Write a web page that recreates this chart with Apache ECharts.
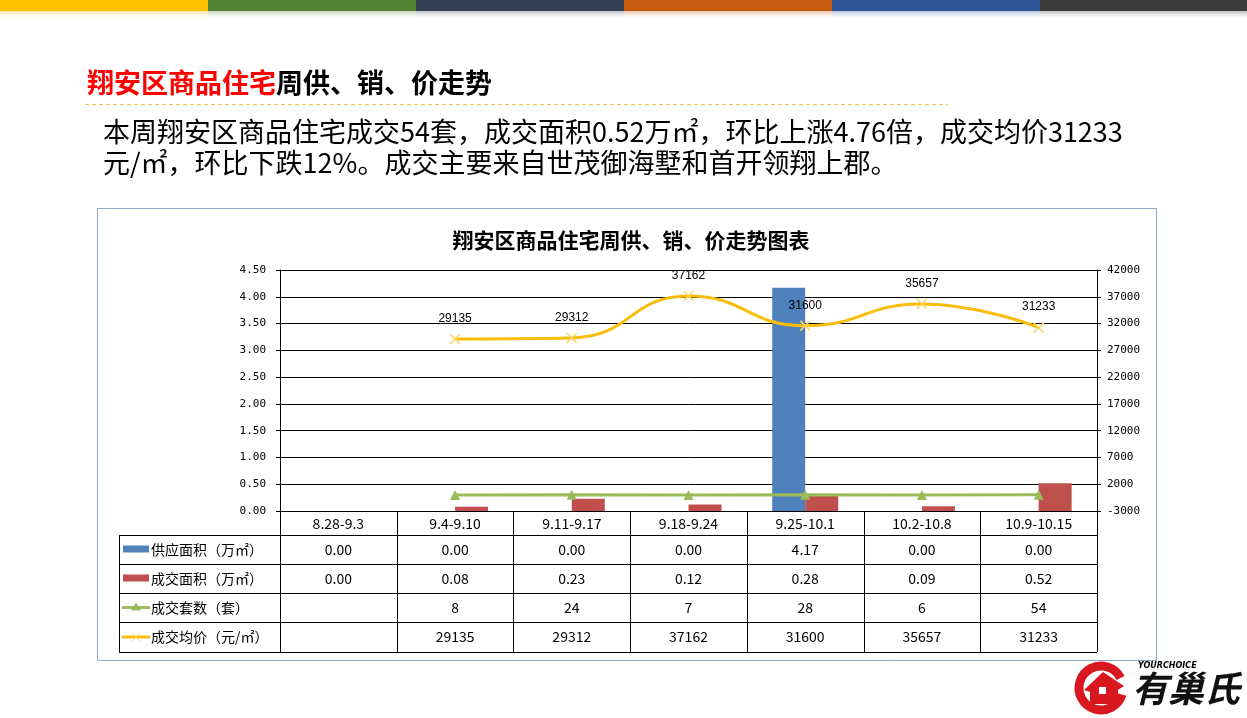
<!DOCTYPE html>
<html>
<head>
<meta charset="utf-8">
<script src="https://cdn.jsdelivr.net/npm/echarts@6/dist/echarts.min.js"></script>
<style>
  html, body { margin: 0; padding: 0; background: #fff; }
  #main { width: 1247px; height: 718px; }
</style>
</head>
<body>
<div id="main"></div>
<script>
// 数据
var categories = ['8.28-9.3', '9.4-9.10', '9.11-9.17', '9.18-9.24', '9.25-10.1', '10.2-10.8', '10.9-10.15'];
var supplyArea = [0, 0, 0, 0, 4.17, 0, 0];
var dealArea = [0, 0.08, 0.23, 0.12, 0.28, 0.09, 0.52];
var dealUnits = [null, 8, 24, 7, 28, 6, 54];
var avgPrice = [null, 29135, 29312, 37162, 31600, 35657, 31233];
var seriesNames = ['供应面积（万㎡）', '成交面积（万㎡）', '成交套数（套）', '成交均价（元/㎡）'];
var stripeColors = ['#FFC000', '#548235', '#333F50', '#C55A11', '#2F5597', '#3A3A3A'];

var colors = ['#4F81BD', '#C0504D', '#9BBB59', '#F9BD0A'];
var cjk = '"Noto Sans CJK SC", sans-serif';

// 布局
var gridL = 280, gridR = 1097, gridT = 270, gridB = 511;
var colW = (gridR - gridL) / categories.length;
var tableL = 119;
var rowY = [511, 535, 564, 593, 622, 652];

var xMark = 'path://M0,1L1,0L5,4L9,0L10,1L6,5L10,9L9,10L5,6L1,10L0,9L4,5Z';

var graphics = [];

// 顶部色条
stripeColors.forEach(function (c, i) {
    graphics.push({ type: 'rect', shape: { x: i * 208, y: 0, width: 208, height: 11 }, style: { fill: c } });
    graphics.push({
        type: 'rect', shape: { x: i * 208, y: 11, width: 208, height: 9 },
        style: {
            fill: new echarts.graphic.LinearGradient(0, 0, 0, 1, [
                { offset: 0, color: echarts.color.modifyAlpha(c, 0.35) },
                { offset: 1, color: 'rgba(255,255,255,0)' }
            ])
        }
    });
});

// 标题
graphics.push({
    type: 'text', left: 87, top: 69,
    style: {
        text: '{r|翔安区商品住宅}{b|周供、销、价走势}',
        rich: {
            r: { fill: '#FF0000', fontSize: 27, fontWeight: 'bold', fontFamily: cjk },
            b: { fill: '#000', fontSize: 27, fontWeight: 'bold', fontFamily: cjk }
        }
    }
});
graphics.push({
    type: 'line', shape: { x1: 85, y1: 104.5, x2: 948, y2: 104.5 },
    style: { stroke: '#F2C440', lineWidth: 1, lineDash: [4, 3] }
});
graphics.push({
    type: 'text', left: 103, top: 116,
    style: {
        text: '本周翔安区商品住宅成交54套，成交面积0.52万㎡，环比上涨4.76倍，成交均价31233\n元/㎡，环比下跌12%。成交主要来自世茂御海墅和首开领翔上郡。',
        fill: '#000', fontSize: 27, lineHeight: 31, fontFamily: cjk
    }
});

// 图表边框
graphics.push({
    type: 'rect', shape: { x: 97.5, y: 208.5, width: 1059, height: 452 },
    style: { fill: 'none', stroke: '#8FA9C9', lineWidth: 1 }
});

// 表格线
for (var r = 1; r < rowY.length; r++) {
    graphics.push({ type: 'line', shape: { x1: tableL, y1: rowY[r] + 0.5, x2: gridR, y2: rowY[r] + 0.5 }, style: { stroke: '#000', lineWidth: 1 } });
}
graphics.push({ type: 'line', shape: { x1: tableL + 0.5, y1: rowY[1], x2: tableL + 0.5, y2: rowY[5] }, style: { stroke: '#000', lineWidth: 1 } });
for (var k = 0; k <= categories.length; k++) {
    var xx = Math.round(gridL + k * colW) + 0.5;
    graphics.push({ type: 'line', shape: { x1: xx, y1: rowY[0], x2: xx, y2: rowY[5] }, style: { stroke: '#000', lineWidth: 1 } });
}

// 表格内容
var tableRows = [
    supplyArea.map(function (v) { return v.toFixed(2); }),
    dealArea.map(function (v) { return v.toFixed(2); }),
    dealUnits.map(function (v) { return v == null ? '' : String(v); }),
    avgPrice.map(function (v) { return v == null ? '' : String(v); })
];
tableRows.forEach(function (row, ri) {
    var cy = (rowY[ri + 1] + rowY[ri + 2]) / 2;
    // 图例
    if (ri < 2) {
        graphics.push({ type: 'rect', shape: { x: 123, y: cy - 4, width: 26, height: 7 }, style: { fill: colors[ri] } });
    } else {
        graphics.push({ type: 'line', shape: { x1: 122, y1: cy, x2: 150, y2: cy }, style: { stroke: colors[ri], lineWidth: 3 } });
        if (ri === 2) {
            graphics.push({ type: 'polygon', shape: { points: [[136, cy - 5], [131, cy + 3], [141, cy + 3]] }, style: { fill: colors[2] } });
        } else {
            graphics.push({ type: 'line', shape: { x1: 132, y1: cy - 4, x2: 140, y2: cy + 4 }, style: { stroke: '#FBD86A', lineWidth: 1 } });
            graphics.push({ type: 'line', shape: { x1: 140, y1: cy - 4, x2: 132, y2: cy + 4 }, style: { stroke: '#FBD86A', lineWidth: 1 } });
        }
    }
    graphics.push({
        type: 'text', x: 151, y: cy,
        style: { text: seriesNames[ri], fill: '#000', fontSize: 14, fontFamily: cjk, verticalAlign: 'middle' }
    });
    row.forEach(function (t, ci) {
        graphics.push({
            type: 'text', x: gridL + (ci + 0.5) * colW, y: cy,
            style: { text: t, fill: '#000', fontSize: 14, fontFamily: cjk, align: 'center', verticalAlign: 'middle' }
        });
    });
});

// logo
graphics.push({ type: 'arc', shape: { cx: 1101, cy: 688, r: 22, startAngle: 0.3, endAngle: Math.PI * 1.85 }, style: { stroke: '#D7191F', lineWidth: 9, fill: 'none' } });
graphics.push({ type: 'polygon', shape: { points: [[1084, 690], [1103, 672], [1124, 686], [1118, 690], [1118, 704], [1090, 704], [1090, 692]] }, style: { fill: '#D7191F' } });
graphics.push({ type: 'rect', shape: { x: 1099, y: 687, width: 7, height: 7 }, style: { fill: '#fff' } });
graphics.push({ type: 'text', x: 1138, y: 662, style: { text: 'YOURCHOICE', fill: '#000', fontSize: 8, fontStyle: 'italic', fontWeight: 'bold', fontFamily: 'DejaVu Sans' } });
graphics.push({ type: 'text', x: 1132, y: 670, style: { text: '有巢氏', fill: '#111', fontSize: 36, fontStyle: 'italic', fontWeight: 'bold', fontFamily: cjk } });

var myChart = echarts.init(document.getElementById('main'));

var option = {
    animation: false,
    backgroundColor: '#fff',
    title: {
        text: '翔安区商品住宅周供、销、价走势图表',
        left: 626, top: 225, textAlign: 'center',
        textStyle: { fontSize: 21, fontWeight: 'bold', color: '#000', fontFamily: cjk }
    },
    grid: { left: gridL, right: 1247 - gridR, top: gridT, bottom: 718 - gridB },
    xAxis: {
        type: 'category',
        data: categories,
        axisLine: { lineStyle: { color: '#000' } },
        axisTick: { show: false },
        axisLabel: { color: '#000', fontSize: 14, fontFamily: cjk, margin: 6, interval: 0 }
    },
    yAxis: [
        {
            type: 'value', min: 0, max: 4.5, interval: 0.5,
            axisLine: { show: true, lineStyle: { color: '#000' } },
            axisTick: { show: true, length: 4, lineStyle: { color: '#000' } },
            splitLine: { lineStyle: { color: '#000' } },
            axisLabel: { color: '#000', fontSize: 11, fontFamily: 'DejaVu Sans Mono', margin: 14, formatter: function (v) { return v.toFixed(2); } }
        },
        {
            type: 'value', min: -3000, max: 42000, interval: 5000,
            axisLine: { show: true, lineStyle: { color: '#000' } },
            axisTick: { show: true, length: 4, lineStyle: { color: '#000' } },
            splitLine: { show: false },
            axisLabel: { color: '#000', fontSize: 11, fontFamily: 'DejaVu Sans Mono', margin: 10, formatter: function (v) { return String(v); } }
        }
    ],
    series: [
        {
            name: seriesNames[0], type: 'bar', data: supplyArea,
            barWidth: 33, barGap: 0, itemStyle: { color: colors[0] }
        },
        {
            name: seriesNames[1], type: 'bar', data: dealArea,
            barWidth: 33, itemStyle: { color: colors[1] }
        },
        {
            name: seriesNames[2], type: 'line', yAxisIndex: 1, data: dealUnits,
            symbol: 'triangle', symbolSize: 10,
            lineStyle: { color: colors[2], width: 3 },
            itemStyle: { color: colors[2] }
        },
        {
            name: seriesNames[3], type: 'line', yAxisIndex: 1, data: avgPrice,
            smooth: 0.5, symbol: xMark, symbolSize: 11,
            lineStyle: { color: colors[3], width: 3 },
            itemStyle: { color: '#FBD86A' },
            label: { show: true, position: 'top', distance: 9, color: '#000', fontSize: 12, fontFamily: 'Liberation Sans' }
        }
    ],
    graphic: graphics
};
myChart.setOption(option);
</script>
</body>
</html>
